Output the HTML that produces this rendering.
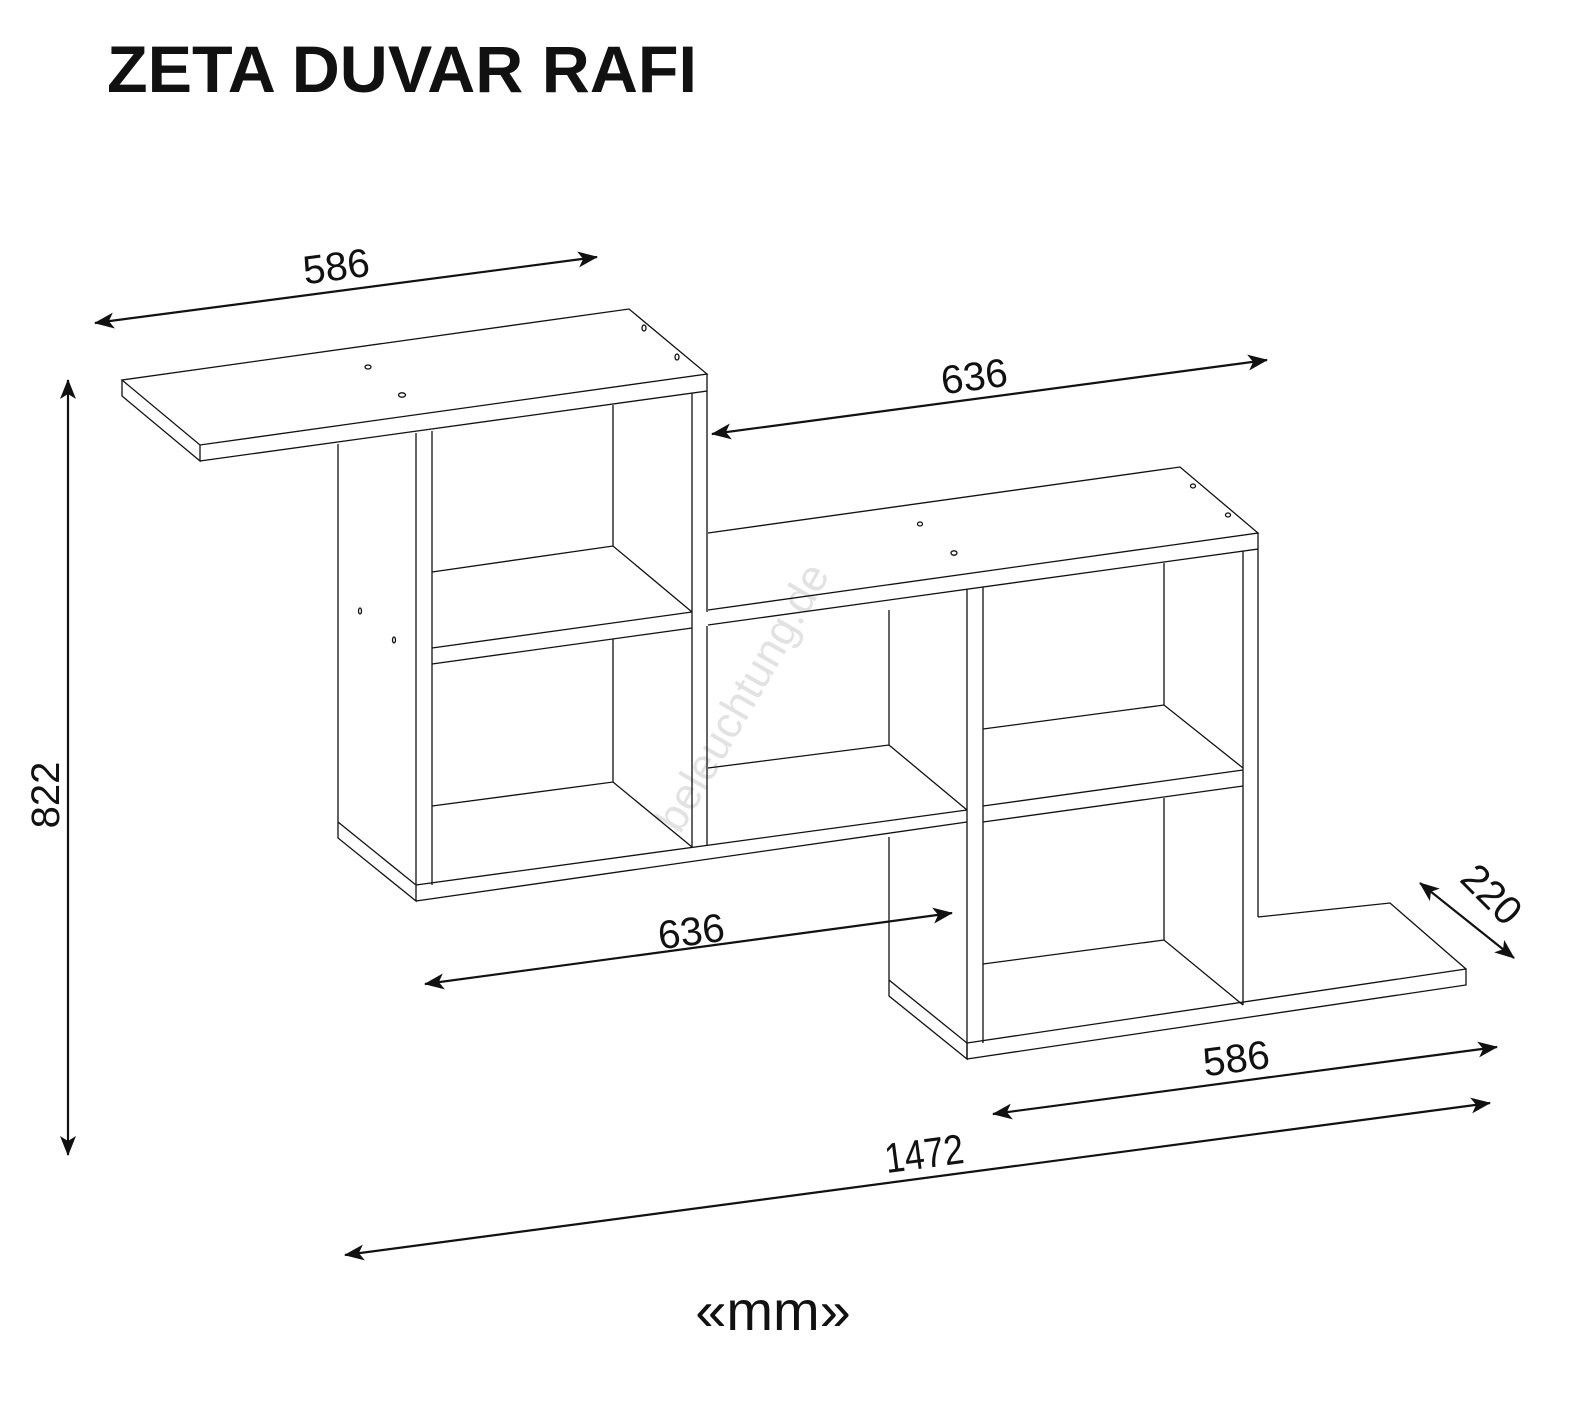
<!DOCTYPE html>
<html><head><meta charset="utf-8"><style>
html,body{margin:0;padding:0;background:#fff;}
svg{display:block;}
.l{stroke:#111;stroke-width:1.3;fill:none;}
.d{stroke:#111;stroke-width:2.2;fill:none;}
.t{font-family:"Liberation Sans",sans-serif;fill:#111;}
</style></head><body>
<svg width="1577" height="1401" viewBox="0 0 1577 1401" xmlns="http://www.w3.org/2000/svg">
<defs>
<marker id="a" viewBox="0 0 20 16" refX="19" refY="8" markerWidth="20" markerHeight="16" markerUnits="userSpaceOnUse" orient="auto-start-reverse">
<path d="M0,0 L20,8 L0,16 L5,8 Z" fill="#111"/>
</marker>
</defs>

<text class="t" x="107" y="92" font-size="66" font-weight="bold" textLength="590" lengthAdjust="spacingAndGlyphs">ZETA DUVAR RAFI</text>

<text class="t" x="0" y="0" font-size="44" style="fill:#e2e2e2" transform="translate(680,835) rotate(-60)">beleuchtung.de</text>

<!-- LEFT TOP SHELF -->
<path class="l" d="M122,380 L629,309 L707,374 L200,445 Z"/>
<path class="l" d="M122,380 L122,396 L200,461 L200,445 M200,461 L707,391 L707,374"/>
<path class="l" d="M338,444 L338,838 L416,901 L416,885 L338,822"/>
<path class="l" d="M416,885 L416,433 M432,431 L432,885"/>
<path class="l" d="M692,393 L692,847 M707,391 L707,612 M707,626 L707,845"/>
<path class="l" d="M613,405 L613,546 M613,639 L613,782"/>
<path class="l" d="M432,572 L613,546 L692,612 M432,648 L692,612 M432,664 L692,628"/>
<path class="l" d="M432,806 L613,782 L692,847"/>
<path class="l" d="M416,885 L967,810 M416,901 L967,822"/>
<ellipse class="l" cx="368" cy="367" rx="3" ry="2"/>
<ellipse class="l" cx="402" cy="395" rx="3.5" ry="2.2"/>
<ellipse class="l" cx="644" cy="328" rx="2" ry="3"/>
<ellipse class="l" cx="677" cy="357" rx="2" ry="3"/>
<ellipse class="l" cx="360" cy="611" rx="1.5" ry="3"/>
<ellipse class="l" cx="394" cy="640" rx="1.5" ry="3"/>

<!-- MIDDLE TOP SHELF -->
<path class="l" d="M708,533 L1180,467 L1258,533 L708,610 M708,625 L1258,549 L1258,533"/>
<ellipse class="l" cx="920" cy="524" rx="2.5" ry="2"/>
<ellipse class="l" cx="954" cy="553" rx="3" ry="2.2"/>
<ellipse class="l" cx="1193" cy="486" rx="2.5" ry="2"/>
<ellipse class="l" cx="1228" cy="515" rx="2.5" ry="2"/>
<path class="l" d="M889,610 L889,745 M708,768 L889,745 L967,810"/>
<!-- right cabinet -->
<path class="l" d="M967,589 L967,1059 M983,587 L983,1043"/>
<path class="l" d="M1243,551 L1243,1005 M1258,549 L1258,917"/>
<path class="l" d="M1164,563 L1164,705 M1164,798 L1164,940"/>
<path class="l" d="M983,729 L1164,705 L1243,768 M983,806 L1243,770 M983,822 L1243,786"/>
<path class="l" d="M983,964 L1164,940 L1243,1005"/>
<path class="l" d="M889,837 L889,996 L967,1059 L967,1043 L889,980"/>
<path class="l" d="M967,1043 L1466,969 L1466,985 L967,1059"/>
<path class="l" d="M1258,917 L1390,903 L1466,969"/>

<!-- DIMENSIONS -->
<line class="d" x1="95" y1="323" x2="597" y2="257" marker-start="url(#a)" marker-end="url(#a)"/>
<text class="t" font-size="40" transform="translate(338,280) rotate(-7.5)" text-anchor="middle">586</text>

<line class="d" x1="712" y1="434" x2="1267" y2="360" marker-start="url(#a)" marker-end="url(#a)"/>
<text class="t" font-size="40" transform="translate(976,390) rotate(-7.5)" text-anchor="middle">636</text>

<line class="d" x1="68" y1="380" x2="68" y2="1155" marker-start="url(#a)" marker-end="url(#a)"/>
<text class="t" font-size="40" transform="translate(59,795) rotate(-90)" text-anchor="middle">822</text>

<line class="d" x1="425" y1="984" x2="952" y2="913" marker-start="url(#a)" marker-end="url(#a)"/>
<text class="t" font-size="40" transform="translate(693,945) rotate(-7.5)" text-anchor="middle">636</text>

<line class="d" x1="1420" y1="883" x2="1514" y2="958" marker-start="url(#a)" marker-end="url(#a)"/>
<text class="t" font-size="40" transform="translate(1482,904) rotate(45)" text-anchor="middle">220</text>

<line class="d" x1="993" y1="1114" x2="1497" y2="1047" marker-start="url(#a)" marker-end="url(#a)"/>
<text class="t" font-size="40" transform="translate(1238,1072) rotate(-7.5)" text-anchor="middle">586</text>

<line class="d" x1="345" y1="1255" x2="1490" y2="1103" marker-start="url(#a)" marker-end="url(#a)"/>
<text class="t" font-size="42" transform="translate(926,1168) rotate(-7.5) scale(0.85,1)" text-anchor="middle">1472</text>

<text class="t" x="773" y="1330" font-size="56" text-anchor="middle">«mm»</text>
</svg>
</body></html>
